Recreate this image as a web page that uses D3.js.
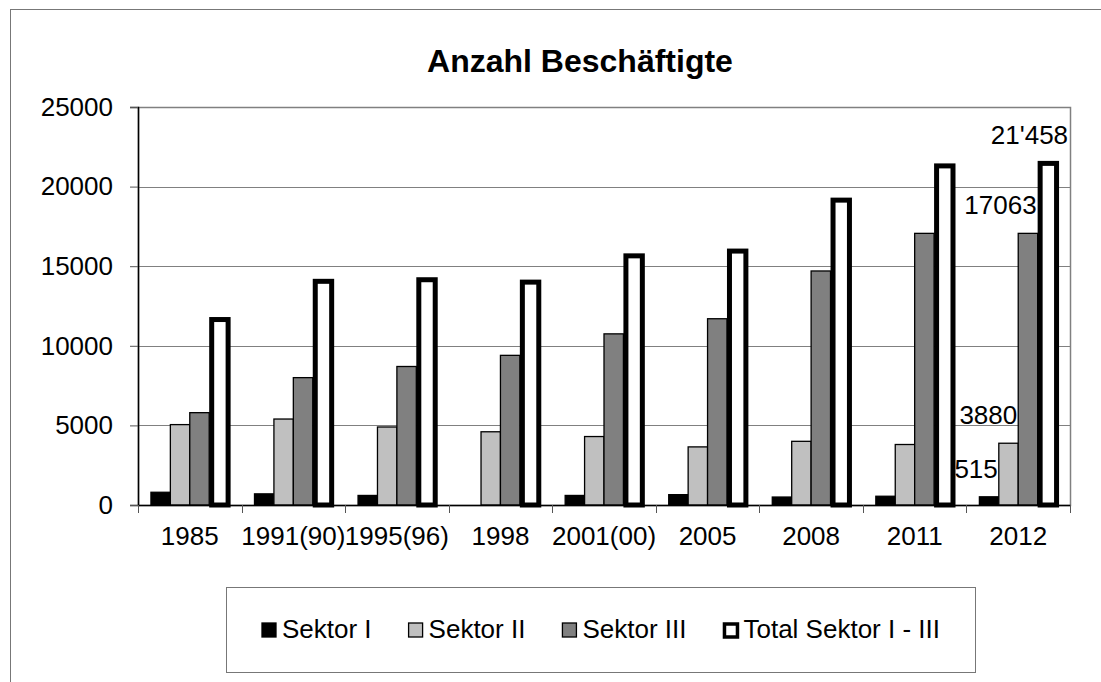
<!DOCTYPE html>
<html lang="de">
  <head>
    <meta charset="utf-8">
    <title>Anzahl Beschäftigte</title>
    <script src="https://d3js.org/d3.v7.min.js"></script>
    <style>
      body { margin: 0; background: #fff; }
      text { font-family: Arial, "Liberation Sans", sans-serif; fill: #000; }
    </style>
  </head>

  <body>

  <script>

// data

  var years = ["1985", "1991(90)", "1995(96)", "1998", "2001(00)", "2005", "2008", "2011", "2012"];
  var series = ["Sektor I", "Sektor II", "Sektor III", "Total Sektor I - III"];

  var sektor1 = [800, 700, 600, 0, 600, 650, 500, 550, 515];
  var sektor2 = [5050, 5400, 4900, 4600, 4300, 3650, 4000, 3800, 3880];
  var sektor3 = [5800, 8000, 8700, 9400, 10750, 11700, 14700, 17063, 17063];
  var total   = [11650, 14050, 14150, 14000, 15650, 15950, 19150, 21300, 21458];

  var yTicks = [0, 5000, 10000, 15000, 20000, 25000];

  // labels only on the last group
  var lastLabels = ["515", "3880", "17063", "21'458"];

  var values = [sektor1, sektor2, sektor3, total];

  var w = 1101;
  var h = 682;
  var fs = "26px";

  var svg = d3.select("body")
    .append("svg")
      .attr("width", w)
      .attr("height", h);

  // outer chart border
  svg.append("rect")
    .attr("x", 10.5)
    .attr("y", 9.5)
    .attr("width", 1200)
    .attr("height", 800)
    .attr("fill", "none")
    .attr("stroke", "#777");

  var pLeft = 138, pRight = 1070, pTop = 107, pBottom = 505;

  var x0 = d3.scaleBand()
    .domain(years)
    .range([pLeft, pRight])
    .paddingInner(0.25)
    .paddingOuter(0.125);

  var x1 = d3.scaleBand()
    .domain(d3.range(series.length))
    .range([0, x0.bandwidth()]);

  var y = d3.scaleLinear()
    .domain([0, 25000])
    .range([pBottom, pTop]);

  var fills = ["#000000", "#c0c0c0", "#808080", "#ffffff"];
  var strokeW = [1.3, 1.3, 1.3, 5];

  // plot area border + grid
  svg.append("rect")
    .attr("x", pLeft + 0.5)
    .attr("y", pTop + 0.5)
    .attr("width", pRight - pLeft)
    .attr("height", pBottom - pTop)
    .attr("fill", "none")
    .attr("stroke", "#808080")
    .attr("stroke-width", 1.5);

  svg.selectAll("line.grid")
    .data(yTicks.filter(d => d > 0))
    .enter().append("line")
      .attr("class", "grid")
      .attr("x1", pLeft)
      .attr("x2", pRight)
      .attr("y1", d => Math.round(y(d)) + 0.5)
      .attr("y2", d => Math.round(y(d)) + 0.5)
      .attr("stroke", "#808080")
      .attr("stroke-width", 1.2);

  // title
  svg.append("text")
    .attr("x", 580)
    .attr("y", 72)
    .attr("text-anchor", "middle")
    .style("font-size", "32px")
    .style("font-weight", "bold")
    .text("Anzahl Beschäftigte");

  // bars
  var groups = svg.selectAll("g.year")
    .data(years)
    .enter().append("g")
      .attr("class", "year")
      .attr("transform", d => "translate(" + x0(d) + ",0)");

  groups.selectAll("rect")
    .data((d, i) => values.map((v, s) => ({s: s, v: v[i]})).filter(e => e.v > 0))
    .enter().append("rect")
      .attr("x", d => x1(d.s) + (d.s == 3 ? 2.5 : 0))
      .attr("y", d => y(d.v))
      .attr("width", d => x1.bandwidth() - (d.s == 3 ? 3 : 0))
      .attr("height", d => pBottom - y(d.v))
      .attr("fill", d => fills[d.s])
      .attr("stroke", "#000")
      .attr("stroke-width", d => strokeW[d.s]);

  // data labels on last group
  var last = years.length - 1;
  svg.selectAll("text.lbl")
    .data(lastLabels)
    .enter().append("text")
      .attr("class", "lbl")
      .attr("x", (d, s) => x0(years[last]) + x1(s) + x1.bandwidth() + (s == 3 ? 11 : -1))
      .attr("y", (d, s) => y(values[s][last]) - 19)
      .attr("text-anchor", "end")
      .style("font-size", fs)
      .text(d => d);

  // y axis
  var yAxis = svg.append("g")
    .attr("transform", "translate(" + pLeft + ",0)")
    .call(d3.axisLeft(y).tickValues(yTicks).tickSize(8).tickPadding(17).tickFormat(d3.format("d")));
  yAxis.select(".domain").attr("stroke", "#000").attr("stroke-width", 1.5);
  yAxis.selectAll(".tick line").attr("stroke", "#555");
  yAxis.selectAll("text").style("font-size", fs).attr("font-family", null);

  // x axis
  var xAxis = svg.append("g")
    .attr("transform", "translate(0," + pBottom + ")")
    .call(d3.axisBottom(x0).tickSize(0).tickPadding(22));
  xAxis.select(".domain").attr("stroke", "#000").attr("stroke-width", 1.5);
  xAxis.selectAll("text").style("font-size", fs).attr("font-family", null);

  // category boundary ticks
  var step = x0.step();
  svg.selectAll("line.xtick")
    .data(d3.range(years.length + 1))
    .enter().append("line")
      .attr("class", "xtick")
      .attr("x1", i => Math.round(pLeft + i * step) + 0.5)
      .attr("x2", i => Math.round(pLeft + i * step) + 0.5)
      .attr("y1", pBottom)
      .attr("y2", pBottom + 8)
      .attr("stroke", "#555");

  // legend
  svg.append("rect")
    .attr("x", 226.5)
    .attr("y", 587.5)
    .attr("width", 749)
    .attr("height", 85)
    .attr("fill", "none")
    .attr("stroke", "#777");

  var lx = 262;
  series.forEach(function (name, s) {
    svg.append("rect")
      .attr("y", s == 3 ? 624 : 623)
      .attr("width", s == 3 ? 13 : 14)
      .attr("height", s == 3 ? 13 : 14)
      .attr("x", s == 3 ? lx + 1 : lx)
      .attr("fill", fills[s])
      .attr("stroke", "#000")
      .attr("stroke-width", s == 3 ? 3.5 : 1.3);
    var t = svg.append("text")
      .attr("x", lx + 20)
      .attr("y", 638)
      .style("font-size", fs)
      .text(name);
    lx += 20 + t.node().getComputedTextLength() + 37;
  });

  </script>

  </body>

</html>
